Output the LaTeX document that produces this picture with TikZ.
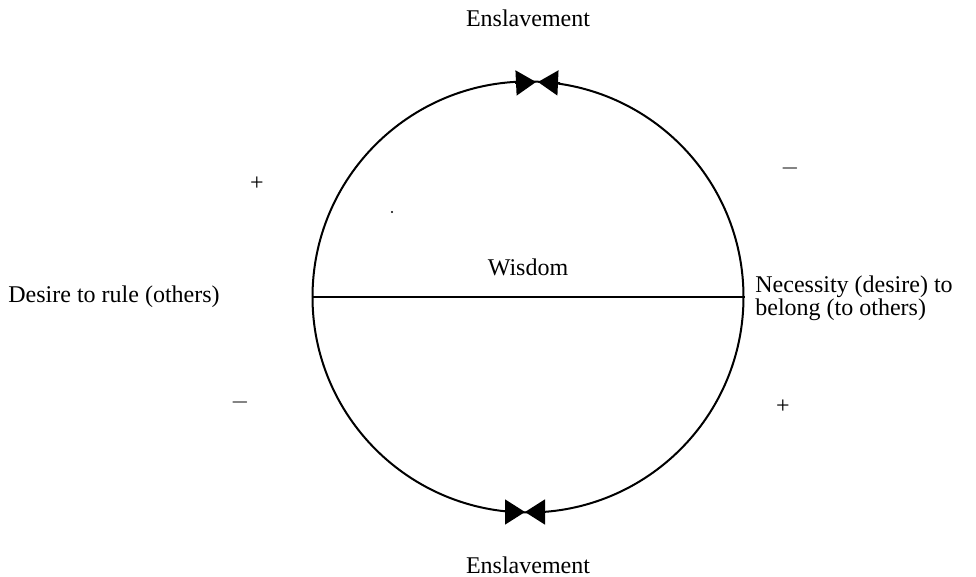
\documentclass[tikz,border=0pt]{standalone}
\usepackage{fontspec}
\setmainfont{Liberation Serif}
\usetikzlibrary{arrows.meta}
\begin{document}
\begin{tikzpicture}[x=0.5pt,y=-0.5pt,
  lbl/.style={inner sep=0pt, font=\fontsize{12}{11.5}\selectfont},
  ring/.style={circle, draw, line width=1pt, minimum size=215.5pt, inner sep=0pt},
  arr/.style={line width=0.8pt, -{Triangle[length=10pt,width=12.5pt]}}]
\useasboundingbox (0,0) rectangle (976,577);
\node[ring] (c) at (528,297) {};
\draw[line width=0.9pt] (c.west) -- (c.east);
% top arrowheads
\coordinate (t1) at (515,83);
\coordinate (t2) at (536,82);
\coordinate (t3) at (560,83);
\coordinate (t4) at (538,82);
\draw[arr] (t1) -- (t2);
\draw[arr] (t3) -- (t4);
% bottom arrowheads
\coordinate (b1) at (505,512);
\coordinate (b2) at (525,512);
\coordinate (b3) at (545,512);
\coordinate (b4) at (525,512);
\draw[arr] (b1) -- (b2);
\draw[arr] (b3) -- (b4);
% texts
\node[lbl] (enst) at (528,18) {Enslavement};
\node[lbl] (ensb) at (528,565) {Enslavement};
\node[lbl] (wis) at (528,267) {Wisdom};
\node[lbl, anchor=west] (rule) at (8,297) {Desire to rule (others)};
\node[lbl, anchor=west, align=left] (bel) at (755,298) {Necessity (desire) to\\belong (to others)};
\node[lbl] (p1) at (257,184) {+};
\node[lbl] (m1) at (790,169) {$-$};
\node[lbl] (m2) at (240,403) {$-$};
\node[lbl] (p2) at (783,407) {+};
\fill (392,212) circle (1.2);
\end{tikzpicture}
\end{document}
